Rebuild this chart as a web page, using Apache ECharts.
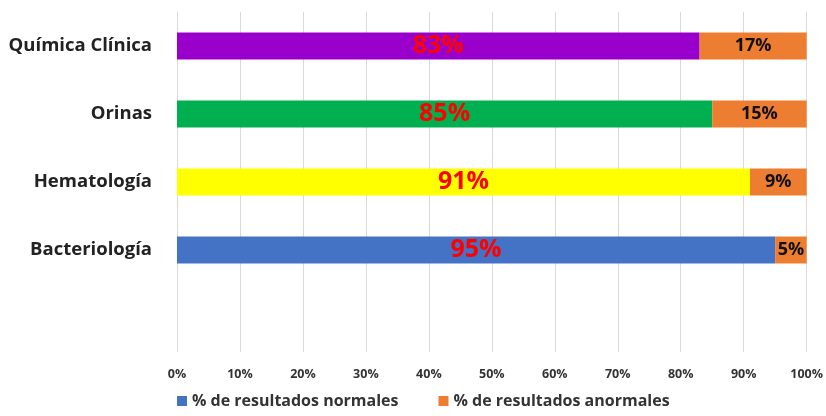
<!DOCTYPE html>
<html><head><meta charset="utf-8">
<script src="https://cdn.jsdelivr.net/npm/echarts@6/dist/echarts.min.js"></script>
<style>html,body{margin:0;padding:0;background:#fff}#c{width:826px;height:416px}</style>
</head><body><div id="c"></div>
<script>
const categories = ['Bacteriología', 'Hematología', 'Orinas', 'Química Clínica'];
const normales = [95, 91, 85, 83];
const anormales = [5, 9, 15, 17];
const barColors = ['#4472C4', '#FFFF00', '#00B050', '#9900CC'];
const seriesNames = ['% de resultados normales', '% de resultados anormales'];
const xTicks = [0, 10, 20, 30, 40, 50, 60, 70, 80, 90, 100];

const FONT = '"Open Sans", Lato, sans-serif';
const cats = [''].concat(categories);
const chart = echarts.init(document.getElementById('c'));
chart.setOption({
  animation: false,
  textStyle: {fontFamily: FONT},
  grid: {left: 177, right: 17, top: 12, bottom: 64},
  legend: {
    bottom: 2, left: 172, itemWidth: 10, itemHeight: 10, itemGap: 40,
    icon: 'rect',
    textStyle: {fontSize: 16, fontWeight: 'bold', color: '#333', fontFamily: FONT},
    data: seriesNames
  },
  xAxis: {
    type: 'value', min: 0, max: 100, interval: 10,
    axisLine: {show: false}, axisTick: {show: false},
    splitLine: {lineStyle: {color: '#d9d9d9'}},
    axisLabel: {formatter: v => v + '%', fontSize: 12.5, fontWeight: 'bold', color: '#333', margin: 16}
  },
  yAxis: {
    type: 'category', data: cats,
    axisLine: {show: false}, axisTick: {show: false},
    axisLabel: {fontSize: 18.5, fontWeight: 'bold', color: '#222', margin: 25}
  },
  series: [
    {
      name: seriesNames[0], type: 'bar', stack: 't', barWidth: 27,
      itemStyle: {color: barColors[0]},
      data: [null].concat(normales.map((v, i) => ({value: v, itemStyle: {color: barColors[i]}}))),
      label: {show: true, position: 'inside', formatter: p => p.value + '%', color: '#FF0000', fontSize: 25, fontWeight: 'bold'}
    },
    {
      name: seriesNames[1], type: 'bar', stack: 't', barWidth: 27,
      itemStyle: {color: '#ED7D31'},
      data: [null].concat(anormales),
      label: {show: true, position: 'inside', formatter: p => p.value + '%', color: '#111', fontSize: 18, fontWeight: 'bold'}
    }
  ]
});
</script></body></html>
